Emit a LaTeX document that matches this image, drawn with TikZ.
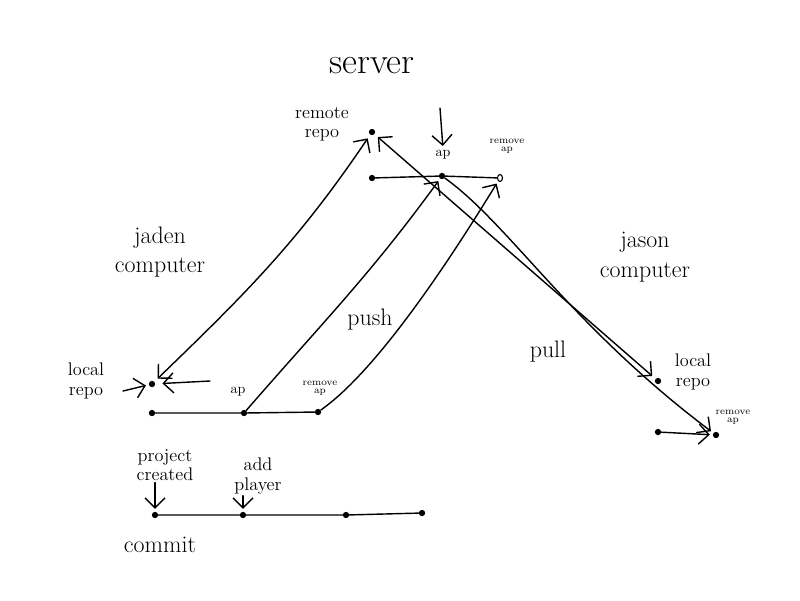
\documentclass[tikz,border=0pt]{standalone}
\usepackage{tikz}
\usetikzlibrary{arrows.meta, positioning, shapes.geometric}
\tikzset{
  commit/.style={circle, fill=black, inner sep=0pt, minimum size=4.5pt},
  endtip/.style={ellipse, draw=black, line width=0.8pt, inner sep=0pt, minimum width=3.5pt, minimum height=5pt},
  title/.style={font=\fontsize{26}{28}\selectfont},
  big/.style={font=\fontsize{17}{21}\selectfont, align=center},
  mid/.style={font=\fontsize{13}{14}\selectfont, align=center, inner sep=1pt},
  note/.style={font=\fontsize{10}{11}\selectfont, inner sep=1pt},
  tiny/.style={font=\fontsize{7}{6}\selectfont, align=center, inner sep=0pt},
  hand/.style={line width=1pt, line cap=round},
  flow/.style={hand, -{Straight Barb[length=2.5mm]}, shorten >=2pt},
  sync/.style={hand, {Straight Barb[length=2.5mm]}-{Straight Barb[length=2.5mm]}, shorten >=3pt, shorten <=3pt}
}
\begin{document}
\begin{tikzpicture}[x=0.025cm, y=-0.025cm]
  \useasboundingbox (0,0) rectangle (800,600);
  % server
  \node[title] (server) at (372,66) {server};
  \node[mid] (rrepol) at (322,124) {remote\\repo};
  \node[commit] (rrepo) at (372,132) {};
  \node[commit] (s1) at (372,178) {};
  \node[commit] (sap) at (442,176) {};
  \node[endtip] (srm) at (500,178) {};
  \node[note] (sapl) at (443,155) {ap};
  \node[tiny] (srml) at (507,146) {remove\\ap};
  \coordinate (sin) at (440,108);
  \draw[hand] (s1) -- (sap) -- (srm);
  \draw[flow] (sin) -- (sapl.north);
  % jaden
  \node[big] (jaden) at (160,252) {jaden\\computer};
  \node[mid] (jrepol) at (86,381) {local\\repo};
  \node[commit] (jrepo) at (152,384) {};
  \node[commit] (j1) at (152,413) {};
  \node[commit] (jap) at (244,413) {};
  \node[commit] (jrm) at (318,412) {};
  \node[note] (japl) at (238,392) {ap};
  \node[tiny] (jrml) at (320,388) {remove\\ap};
  \coordinate (jin) at (123,391);
  \coordinate (jpt) at (210,381);
  \draw[hand] (j1) -- (jap) -- (jrm);
  \draw[flow] (jin) -- (jrepo);
  \draw[flow, shorten >=5pt] (jpt) -- (jrepo);
  % jason
  \node[big] (jason) at (645,257) {jason\\computer};
  \node[mid] (brepol) at (693,372) {local\\repo};
  \node[commit] (brepo) at (658,381) {};
  \node[commit] (b1) at (658,432) {};
  \node[commit] (brm) at (716,435) {};
  \node[tiny] (brml) at (733,417) {remove\\ap};
  \draw[flow] (b1) -- (brm);
  % push and pull
  \node[big] (push) at (370,320) {push};
  \node[big] (pull) at (548,352) {pull};
  \draw[sync] (rrepo) to[out=236, in=44] (jrepo);
  \draw[flow] (jap) to[out=49, in=234] (sap);
  \draw[flow] (jrm) .. controls (375,372) and (445,268) .. (srm);
  \draw[sync] (rrepo) -- (brepo);
  \draw[flow] (sap) .. controls (510,225) and (570,325) .. (brm);
  % commits
  \node[mid] (c1l) at (165,465) {project\\created};
  \node[mid] (c2l) at (258,476) {add\\player};
  \node[commit] (c1) at (155,515) {};
  \node[commit] (c2) at (243,515) {};
  \node[commit] (c3) at (346,515) {};
  \node[commit] (c4) at (422,513) {};
  \node[big] (commitl) at (160,545) {commit};
  \draw[hand] (c1) -- (c2) -- (c3) -- (c4);
  \draw[flow] (c1l.south -| c1) -- (c1);
  \draw[flow] (c2l.south -| c2) -- (c2);
\end{tikzpicture}
\end{document}
